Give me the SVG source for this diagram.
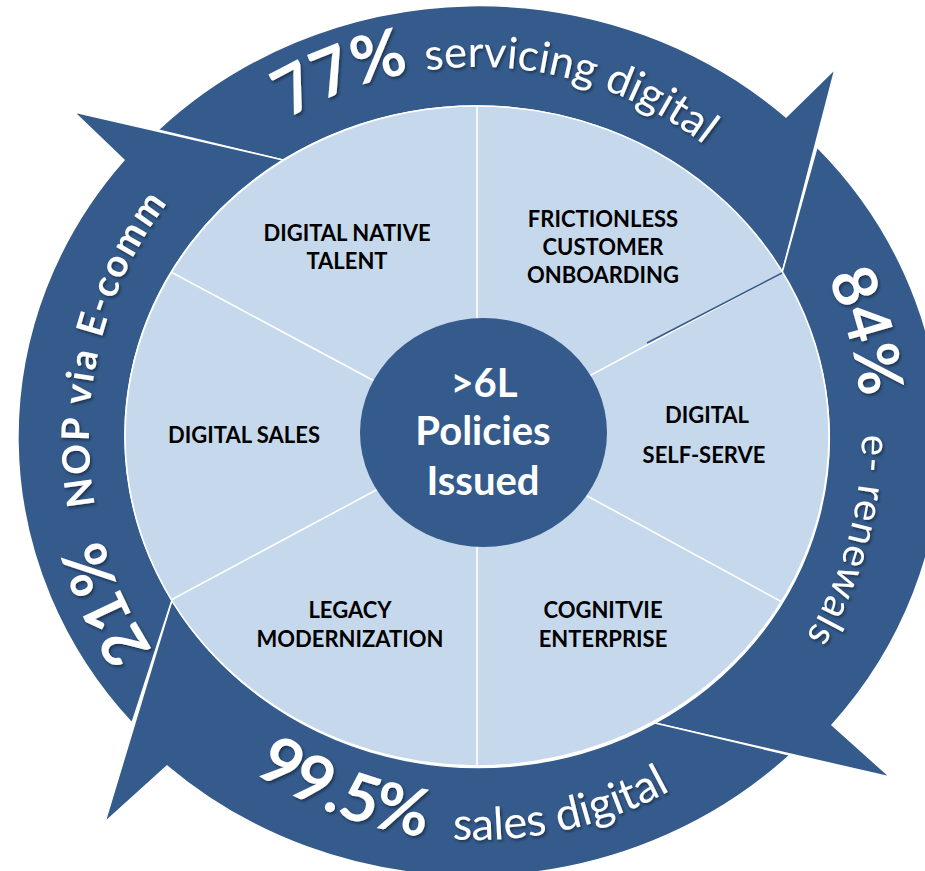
<svg xmlns="http://www.w3.org/2000/svg" width="925" height="871" viewBox="0 0 925 871">
<style>
.arrow{fill:#345B8C;stroke:#ffffff;stroke-width:1.5;stroke-linejoin:miter}
.div{stroke:#ffffff;stroke-width:1.6;fill:none}
.lbl{font-family:Lato,"Liberation Sans",sans-serif;font-weight:700;font-size:22px;fill:#000000;text-anchor:middle}
.ctr{font-family:Lato,"Liberation Sans",sans-serif;font-weight:700;font-size:40px;fill:#ffffff;text-anchor:middle}
.ring{font-family:Lato,"Liberation Sans",sans-serif;fill:#ffffff;filter:url(#sh)}
.big{font-weight:700}
</style>
<defs>
<filter id="sh" x="-20%" y="-20%" width="140%" height="140%">
<feDropShadow dx="1.5" dy="2" stdDeviation="1.5" flood-color="#000000" flood-opacity="0.45"/>
</filter>
<path id="pTop" d="M107,437 A370,370 0 0 1 847,437"/>
<path id="pRight" d="M477,52 A385,385 0 0 1 477,822"/>
<path id="pBot" d="M74,437 A403,403 0 0 0 880,437"/>
<path id="pLeft" d="M477,825 A388,388 0 0 1 477,49"/>
</defs>

<g id="connectors">
<path id="arrow-top" class="arrow" d="M158,130 A458,433 0 0 1 786,117 L835,69 L782,273 A352,330 0 0 0 283,160 Z"/>
<path id="arrow-right" class="arrow" d="M817,147 A458,433 0 0 1 832,725 L890,777 L655,723 A352,330 0 0 0 782,273 Z"/>
<path id="arrow-bottom" class="arrow" d="M790,755 A458,433 0 0 1 167,766 L105,822 L172,600 A352,330 0 0 0 655,723 Z"/>
<path id="arrow-left" class="arrow" d="M132,723 A458,433 0 0 1 124,160 L74,112 L283,160 A352,330 0 0 0 172,600 Z"/>
</g>

<g id="ring-labels">
<text class="ring"><textPath href="#pTop" startOffset="383"><tspan class="big" font-size="66">77%</tspan><tspan font-size="43.5" dx="5"> servicing digital</tspan></textPath></text>
<text class="ring"><textPath href="#pRight" startOffset="440"><tspan class="big" font-size="62" letter-spacing="1">84%</tspan><tspan font-size="40" dx="25" letter-spacing="1"> e- renewals</tspan></textPath></text>
<text class="ring"><textPath href="#pBot" startOffset="396"><tspan class="big" font-size="66">99.5%</tspan><tspan font-size="45" dx="16"> sales digital</tspan></textPath></text>
<text class="ring"><textPath href="#pLeft" startOffset="384"><tspan class="big" font-size="62">21%</tspan><tspan class="big" font-size="38" dx="22" letter-spacing="2.4"> NOP via E-comm</tspan></textPath></text>
</g>

<g id="wheel">
<ellipse cx="477" cy="436" rx="352" ry="330" fill="#C6D9EC" stroke="#ffffff" stroke-width="1.6"/>
<line class="div" x1="477" y1="436" x2="477" y2="106"/>
<line class="div" x1="477" y1="436" x2="477" y2="766"/>
<line class="div" x1="477" y1="436" x2="171" y2="272"/>
<line class="div" x1="477" y1="436" x2="171" y2="600"/>
<line class="div" x1="477" y1="436" x2="782" y2="602"/>
<line class="div" x1="477" y1="436" x2="782" y2="273"/>
<line x1="647" y1="343" x2="782" y2="273" stroke="#345B8C" stroke-width="1.6"/>
</g>

<g id="node-digital-native-talent">
<text class="lbl" x="347" y="241">DIGITAL NATIVE</text>
<text class="lbl" x="347" y="269">TALENT</text>
</g>
<g id="node-frictionless-onboarding">
<text class="lbl" x="603" y="227">FRICTIONLESS</text>
<text class="lbl" x="603" y="255">CUSTOMER</text>
<text class="lbl" x="603" y="283">ONBOARDING</text>
</g>
<g id="node-digital-sales">
<text class="lbl" x="244" y="443">DIGITAL SALES</text>
</g>
<g id="node-digital-self-serve">
<text class="lbl" x="707" y="423">DIGITAL</text>
<text class="lbl" x="704" y="463">SELF-SERVE</text>
</g>
<g id="node-legacy-modernization">
<text class="lbl" x="350" y="618">LEGACY</text>
<text class="lbl" x="350" y="647">MODERNIZATION</text>
</g>
<g id="node-cognitive-enterprise">
<text class="lbl" x="603" y="618">COGNITVIE</text>
<text class="lbl" x="603" y="647">ENTERPRISE</text>
</g>
<g id="node-center">
<ellipse cx="483.5" cy="432.5" rx="123.5" ry="114.5" fill="#345B8C"/>
<text class="ctr" x="484" y="397">&gt;6L</text>
<text class="ctr" x="483" y="445">Policies</text>
<text class="ctr" x="483" y="495">Issued</text>
</g>
</svg>
